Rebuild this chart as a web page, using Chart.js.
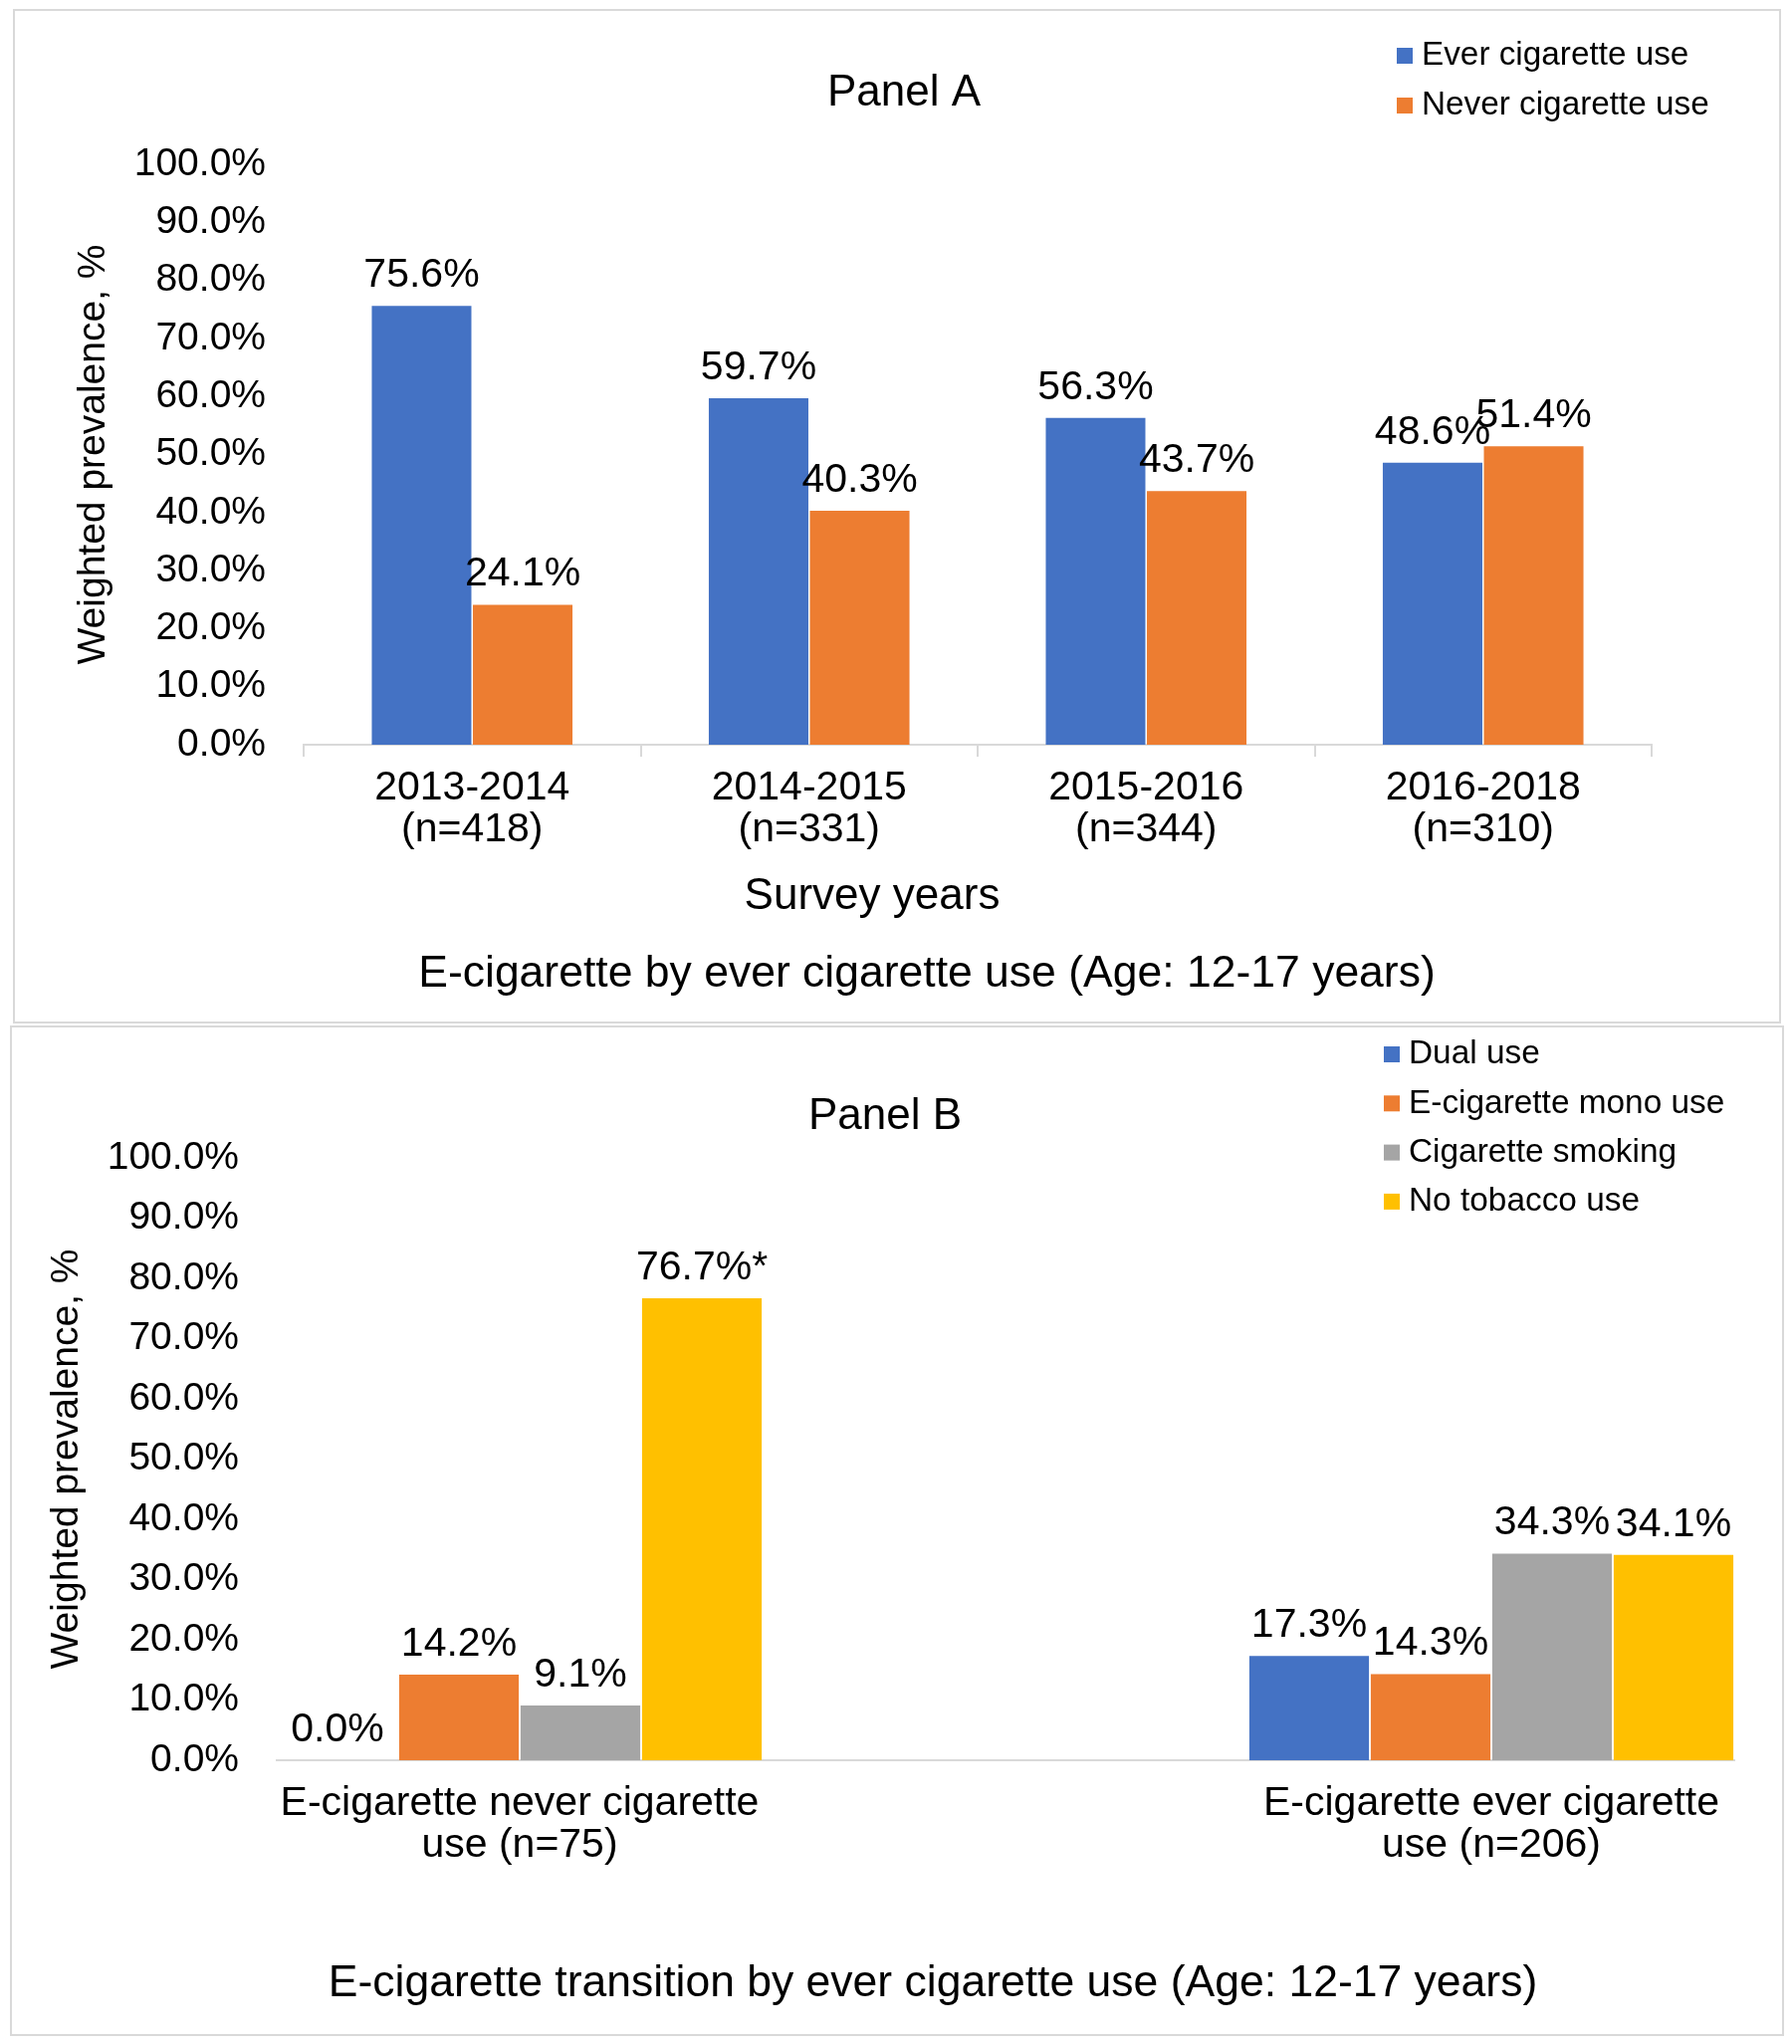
<!DOCTYPE html>
<html>
<head>
<meta charset="utf-8">
<script src="https://cdn.jsdelivr.net/npm/chart.js@4.4.1/dist/chart.umd.min.js"></script>
<style>
  body { margin: 0; background: #fff; }
  .panel { position: absolute; box-sizing: border-box; border: 2px solid #d9d9d9; }
  canvas { position: absolute; }
</style>
</head>
<body>
<div class="panel" style="left:13px;top:9px;width:1776px;height:1019px"></div>
<canvas id="panelA" width="1776" height="1019" style="left:13px;top:9px"></canvas>
<div class="panel" style="left:10px;top:1030px;width:1782px;height:1015px"></div>
<canvas id="panelB" width="1782" height="1015" style="left:10px;top:1030px"></canvas>
<script>
// Panel A: e-cigarette use by ever cigarette use
const surveyYears = [['2013-2014', '(n=418)'], ['2014-2015', '(n=331)'], ['2015-2016', '(n=344)'], ['2016-2018', '(n=310)']];
const everCigarette = [75.6, 59.7, 56.3, 48.6];
const neverCigarette = [24.1, 40.3, 43.7, 51.4];

// Panel B: transitions
const transitionGroups = [['E-cigarette never cigarette', 'use (n=75)'], ['E-cigarette ever cigarette', 'use (n=206)']];
const dualUse = [0.0, 17.3];
const ecigMonoUse = [14.2, 14.3];
const cigaretteSmoking = [9.1, 34.3];
const noTobaccoUse = [76.7, 34.1];
const noTobaccoNotes = ['*', ''];

const yMin = 0, yMax = 100, yStep = 10;

const FONT = '"Liberation Sans", Arial, sans-serif';
const BLUE = '#4472C4', ORANGE = '#ED7D31', GRAY = '#A5A5A5', YELLOW = '#FFC000';
const AXIS = '#d9d9d9';

Chart.defaults.font.family = FONT;
Chart.defaults.color = '#000';

// value labels above bars
const barValues = {
  id: 'barValues',
  afterDatasetsDraw(chart) {
    const ctx = chart.ctx;
    ctx.save();
    ctx.font = '41px ' + FONT;
    ctx.fillStyle = '#000';
    ctx.textAlign = 'center';
    ctx.textBaseline = 'alphabetic';
    chart.data.datasets.forEach((ds, i) => {
      chart.getDatasetMeta(i).data.forEach((bar, j) => {
        const v = ds.data[j];
        if (v === null || v === undefined) return;
        const note = ds.notes ? ds.notes[j] : '';
        ctx.fillText(v.toFixed(1) + '%' + note, bar.x, bar.y - 19);
      });
    });
    ctx.restore();
  }
};

// titles, captions and the top-right legend
const panelText = {
  id: 'panelText',
  afterDraw(chart, args, opts) {
    const ctx = chart.ctx;
    ctx.save();
    ctx.fillStyle = '#000';
    ctx.textAlign = 'center';
    ctx.textBaseline = 'middle';
    opts.texts.forEach(t => {
      ctx.font = t.size + 'px ' + FONT;
      ctx.fillText(t.text, t.x, t.y);
    });
    const lg = opts.legend;
    ctx.textAlign = 'left';
    ctx.font = lg.size + 'px ' + FONT;
    chart.data.datasets.forEach((ds, i) => {
      const y = lg.y + i * lg.gap;
      ctx.fillStyle = ds.backgroundColor;
      ctx.fillRect(lg.x, y - lg.box / 2, lg.box, lg.box);
      ctx.fillStyle = '#000';
      ctx.fillText(ds.label, lg.x + lg.box + lg.textGap, y);
    });
    ctx.restore();
  }
};

function yScale(width) {
  return {
    min: yMin, max: yMax,
    afterFit: s => { s.width = width; },
    grid: { display: false, drawTicks: false },
    border: { display: false },
    ticks: { stepSize: yStep, padding: 38, font: { size: 39 }, callback: v => v.toFixed(1) + '%' },
    title: { display: true, text: 'Weighted prevalence, %', font: { size: 39 }, padding: { top: 8, bottom: 0 } }
  };
}

function withGap(arr) {
  return [arr[0], null, arr[1]];
}

new Chart(document.getElementById('panelA'), {
  type: 'bar',
  plugins: [barValues, panelText],
  data: {
    labels: surveyYears,
    datasets: [
      { label: 'Ever cigarette use', data: everCigarette, backgroundColor: BLUE },
      { label: 'Never cigarette use', data: neverCigarette, backgroundColor: ORANGE }
    ]
  },
  options: {
    responsive: false,
    animation: false,
    events: [],
    categoryPercentage: 0.6,
    barPercentage: 0.985,
    layout: { padding: { left: 50, right: 130, top: 156, bottom: 150 } },
    plugins: {
      legend: { display: false },
      tooltip: { enabled: false },
      panelText: {
        texts: [
          { text: 'Panel A', x: 895, y: 85, size: 44 },
          { text: 'Survey years', x: 863, y: 892, size: 44 },
          { text: 'E-cigarette by ever cigarette use (Age: 12-17 years)', x: 918, y: 970, size: 44.5 }
        ],
        legend: { x: 1390, y: 47, gap: 50, box: 16, textGap: 9, size: 33.3 }
      }
    },
    scales: {
      x: {
        afterFit: s => { s.height = 130; },
        grid: { display: true, drawOnChartArea: false, drawTicks: true, tickLength: 12, color: AXIS, lineWidth: 2 },
        border: { display: true, color: AXIS, width: 2 },
        ticks: { padding: 11, maxRotation: 0, autoSkip: false, font: { size: 41, lineHeight: 1.02 } }
      },
      y: yScale(242)
    }
  }
});

new Chart(document.getElementById('panelB'), {
  type: 'bar',
  plugins: [barValues, panelText],
  data: {
    labels: withGap(transitionGroups).map(l => l || ''),
    datasets: [
      { label: 'Dual use', data: withGap(dualUse), backgroundColor: BLUE },
      { label: 'E-cigarette mono use', data: withGap(ecigMonoUse), backgroundColor: ORANGE },
      { label: 'Cigarette smoking', data: withGap(cigaretteSmoking), backgroundColor: GRAY },
      { label: 'No tobacco use', data: withGap(noTobaccoUse), backgroundColor: YELLOW, notes: withGap(noTobaccoNotes) }
    ]
  },
  options: {
    responsive: false,
    animation: false,
    events: [],
    categoryPercentage: 1.0,
    barPercentage: 0.985,
    layout: { padding: { left: 26, right: 50, top: 133, bottom: 147 } },
    plugins: {
      legend: { display: false },
      tooltip: { enabled: false },
      panelText: {
        texts: [
          { text: 'Panel B', x: 879, y: 92, size: 44 },
          { text: 'E-cigarette transition by ever cigarette use (Age: 12-17 years)', x: 927, y: 963, size: 44.5 }
        ],
        legend: { x: 1380, y: 29, gap: 49.3, box: 16, textGap: 9, size: 33.4 }
      }
    },
    scales: {
      x: {
        afterFit: s => { s.height = 130; },
        grid: { display: false, drawTicks: false },
        border: { display: true, color: AXIS, width: 2 },
        ticks: { padding: 23, maxRotation: 0, autoSkip: false, font: { size: 41, lineHeight: 1.02 } }
      },
      y: yScale(242)
    }
  }
});
</script>
</body>
</html>
